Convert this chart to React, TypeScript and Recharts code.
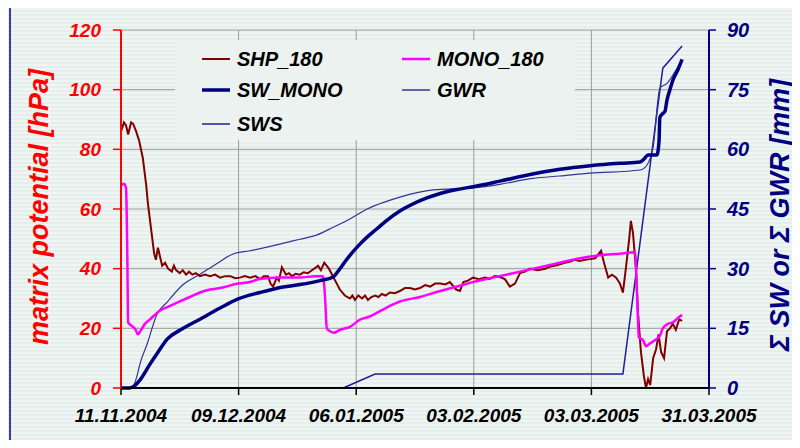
import React from 'react';
import { ComposedChart, Line, XAxis, YAxis, CartesianGrid, Legend, Label } from 'recharts';

// x values are days counted from 11.11.2004
const xTickDays = [0, 28, 56, 84, 112, 140];
const xTickLabels = ['11.11.2004', '09.12.2004', '06.01.2005', '03.02.2005', '03.03.2005', '31.03.2005'];
const leftTicks = [0, 20, 40, 60, 80, 100, 120];
const rightTicks = [0, 15, 30, 45, 60, 75, 90];

// matrix potential [hPa]
const shp180: [number, number][] = [
  [0, 86], [0.7, 89], [1.2, 88], [1.7, 85], [2.4, 89], [2.9, 88.5], [3.6, 86], [4.3, 83], [5.2, 77], [6, 68],
  [6.4, 62], [7.1, 54], [7.9, 45], [8.3, 43], [8.8, 47], [9.3, 44], [9.8, 41], [10.5, 42], [11.2, 40], [12.1, 39],
  [12.6, 41], [13.1, 39.5], [14, 38.5], [14.7, 39.5], [15.5, 38], [16.2, 39], [17, 38], [17.8, 38.5], [18.8, 37.5],
  [20, 38], [21.2, 37.5], [22.4, 38], [23.6, 37], [24.8, 37.5], [26, 37.5], [27.2, 36.8], [28.3, 37], [29.5, 37.5],
  [30.7, 37], [32, 37.5], [33.1, 36.5], [34, 37.5], [35, 37.5], [35.6, 35], [36.2, 34], [37.1, 37], [37.6, 36],
  [38.3, 40.5], [39.3, 38], [40, 38.5], [40.7, 37.5], [41.6, 38.3], [42.6, 38], [43.5, 38.8], [44.5, 38.5],
  [45.3, 39.3], [46, 40], [46.9, 41], [47.6, 39.5], [48.4, 42], [49.5, 40], [51, 36], [52.1, 33], [53.3, 31],
  [54.5, 30], [55.1, 31], [55.7, 29.5], [56.5, 31], [57.4, 30], [58.1, 31], [58.8, 29.5], [59.6, 30.5], [60.5, 31],
  [61.3, 30.5], [62.1, 31.5], [63, 31], [64, 32], [65.2, 31.8], [66.4, 32.5], [67.6, 33.5], [68.8, 33.5], [70, 33],
  [71.2, 33.5], [72.4, 34.5], [73.6, 34], [74.8, 35], [76, 35], [77.2, 34.7], [78.3, 35.5], [79.8, 33], [80.7, 32.5],
  [81.5, 35.5], [82.6, 36], [83.8, 37], [85.2, 36.5], [86.7, 37], [87.8, 36.6], [89, 37.5], [90.2, 37.2], [91.4, 36.5],
  [92.6, 34], [93.8, 35], [95, 38.5], [96.2, 39], [97.4, 40], [99.2, 39.5], [101, 40], [102.2, 40.7], [103.3, 41],
  [104.5, 41.5], [105.7, 42], [107, 42.4], [108, 43], [109.2, 42.6], [110.5, 43], [111.7, 43.2], [112.9, 43.5],
  [114.3, 46], [115, 42], [116, 37], [116.9, 38], [117.9, 37], [118.8, 35], [119.5, 32], [120.2, 40], [121, 50],
  [121.4, 56], [121.9, 52], [122.6, 40], [123.1, 25], [123.8, 12], [124.5, 4], [125, 0], [125.5, 3], [126, 1],
  [126.7, 10], [127.4, 13], [128, 18], [128.6, 12], [129.3, 10], [130, 19], [130.7, 20], [131.4, 21.5], [132.1, 19.5],
  [132.9, 23], [133.6, 22.5],
];

const mono180: [number, number][] = [
  [0, 68], [0.7, 68.5], [1.2, 67], [1.5, 45], [1.7, 22], [2.4, 21], [3.5, 19.5], [4, 18], [4.8, 19.5], [5.7, 21.5],
  [6.9, 23], [9.3, 26], [11.7, 27.5], [14, 29], [16.4, 30.5], [18.8, 32], [21.2, 33], [23.6, 33.5], [27.9, 35],
  [30.7, 35.5], [33, 36.5], [37.9, 37], [42.6, 37], [46.2, 37.5], [48.1, 37.5], [48.6, 30], [49, 20], [49.8, 19],
  [50.7, 18.5], [52.1, 19.5], [54.5, 20.5], [57, 23], [59.3, 24], [62, 26], [64, 27.5], [66.4, 29], [71.2, 30.5],
  [76, 32.5], [80, 34], [83.8, 35.5], [90.2, 37.5], [95, 39], [99.8, 40.5], [104.5, 42], [109.3, 43.5], [114, 44.5],
  [118.8, 45], [122.4, 45.5], [122.9, 30], [123.3, 17], [124.3, 16], [125, 14], [126, 15], [127.1, 16], [128.3, 17.5],
  [129, 20], [130.2, 21.5], [131.4, 22], [132.6, 23.5], [133.6, 24.5],
];

// cumulative sums [mm]
const swMono: [number, number][] = [
  [0, 0], [2, 0], [2.9, 0.3], [4.5, 2], [6.9, 6], [8.8, 9], [11, 12.3], [14, 14.5], [18.8, 17.3], [23.6, 20.1],
  [27.9, 22.4], [33.1, 24], [38.6, 25.4], [42.6, 26], [47.4, 27], [50.5, 27.9], [52, 29.8], [53.5, 32], [55.2, 34.2],
  [57, 36.3], [59, 38.3], [61, 40.1], [63, 41.9], [66.4, 44.5], [69, 46], [71.2, 47.1], [76, 48.9], [80, 49.9],
  [83.8, 50.6], [90.2, 52], [98, 53.8], [104.5, 55], [111.7, 55.9], [118.8, 56.5], [123.6, 56.8], [124.5, 57.5],
  [125.5, 58.6], [127.6, 58.6], [128.1, 62], [128.3, 68], [129, 69], [129.5, 69.5], [130, 72.4], [130.7, 75],
  [131.4, 77.4], [132.6, 80], [133.6, 82.6],
];

const gwr: [number, number][] = [
  [0, 0], [2, 0], [2.9, 0.5], [3.8, 3], [4.5, 6], [6.2, 11], [8.6, 18.6], [11, 21.6], [14.8, 26], [18.8, 28.6],
  [22.4, 31], [26.7, 33.7], [30.7, 34.5], [34.8, 35.4], [39, 36.5], [42.6, 37.4], [46.7, 38.5], [50.5, 40.4],
  [54.5, 42.5], [58.6, 45], [62.9, 46.8], [66.4, 48], [74.3, 49.8], [83.8, 50.3], [90.2, 51.2], [98, 52.7],
  [104.5, 53.3], [111.7, 54], [123.6, 54.8], [125.2, 56], [126.7, 60.6], [128.3, 75.4], [130, 76.6], [131.9, 79.5],
  [133.3, 82],
];

const sws: [number, number][] = [
  [52.9, 0], [60.5, 3.5], [119.5, 3.5], [129, 80.4], [133.6, 86],
];

const bg = '#ebf2ef';

const series = [
  { key: 'sws', name: 'SWS', data: sws, color: '#1f1f99', width: 1.5, axis: 'right', curve: 'linear' },
  { key: 'gwr', name: 'GWR', data: gwr, color: '#333399', width: 1.2, axis: 'right', curve: 'monotone' },
  { key: 'shp', name: 'SHP_180', data: shp180, color: '#800000', width: 2, axis: 'left', curve: 'linear' },
  { key: 'mono', name: 'MONO_180', data: mono180, color: '#ff00ff', width: 2.5, axis: 'left', curve: 'monotone' },
  { key: 'swMono', name: 'SW_MONO', data: swMono, color: '#000080', width: 3.5, axis: 'right', curve: 'monotone' },
];
const legendOrder = ['shp', 'mono', 'swMono', 'gwr', 'sws'];

const rows = new Map<number, Record<string, number>>();
series.forEach(s =>
  s.data.forEach(([d, v]) => {
    const r = rows.get(d) ?? { day: d };
    r[s.key] = v;
    rows.set(d, r);
  })
);
const chartData = [...rows.values()].sort((a, b) => a.day - b.day);

const renderLegend = () => (
  <svg width={400} height={100} style={{ display: 'block' }}>
    {legendOrder.map((k, i) => {
      const s = series.find(x => x.key === k)!;
      const cx = (i % 2) * 200;
      const cy = [19, 50, 84][Math.floor(i / 2)];
      return (
        <g key={k}>
          <line x1={cx + 27} x2={cx + 55} y1={cy} y2={cy} stroke={s.color} strokeWidth={Math.max(s.width, 1.5)} />
          <text x={cx + 62} y={cy + 7} fontSize={20} fontWeight="bold" fontStyle="italic" fill="#000">
            {s.name}
          </text>
        </g>
      );
    })}
  </svg>
);

// rotated axis title, centred at (cx, cy)
const axisTitle = (text: string, color: string, cx: number, cy: number) => () => (
  <text
    x={cx}
    y={cy}
    transform={`rotate(-90, ${cx}, ${cy})`}
    dy="0.36em"
    textAnchor="middle"
    fill={color}
    fontSize={27}
    fontWeight="bold"
    fontStyle="italic"
  >
    {text}
  </text>
);

const tickFont = { fontSize: 19, fontWeight: 'bold', fontStyle: 'italic' };

export default function App() {
  return (
    <div
      style={{
        position: 'relative',
        width: 800,
        height: 448,
        margin: -8,
        background: `repeating-linear-gradient(to bottom, #eff5f3 0px, #eff5f3 2px, #e6eeeb 2px, #e6eeeb 4px)`,
        fontFamily: '"Liberation Sans", Arial, sans-serif',
        overflow: 'hidden',
      }}
    >
      <div
        style={{
          position: 'absolute',
          left: 9,
          top: 5,
          width: 820,
          height: 460,
          borderLeft: '2px solid #3b3ba0',
          borderTop: '2px solid #3b3ba0',
        }}
      />
      <ComposedChart width={800} height={448} data={chartData} margin={{ top: 30, right: 0, bottom: 30, left: 0 }}>
        <CartesianGrid yAxisId="left" stroke="#9a9a9a" strokeWidth={1} />
        <XAxis
          dataKey="day"
          type="number"
          domain={[0, 140]}
          ticks={xTickDays}
          interval={0}
          height={30}
          tickFormatter={(v: number) => xTickLabels[xTickDays.indexOf(v)]}
          axisLine={{ stroke: '#000', strokeWidth: 2 }}
          tickLine={{ stroke: '#000', strokeWidth: 1.5 }}
          tickSize={7}
          tickMargin={14}
          tick={{ ...tickFont, fill: '#000' }}
        />
        <YAxis
          yAxisId="left"
          orientation="left"
          width={121}
          domain={[0, 120]}
          ticks={leftTicks}
          interval={0}
          axisLine={{ stroke: '#ff0000', strokeWidth: 2 }}
          tickLine={{ stroke: '#ff0000', strokeWidth: 1.5 }}
          tickSize={8}
          tickMargin={12}
          tick={{ ...tickFont, fill: '#ff0000' }}
        >
          <Label content={axisTitle('matrix potential [hPa]', '#ff0000', 38, 207)} />
        </YAxis>
        <YAxis
          yAxisId="right"
          orientation="right"
          width={91}
          domain={[0, 90]}
          ticks={rightTicks}
          interval={0}
          axisLine={{ stroke: '#000080', strokeWidth: 2 }}
          tickLine={{ stroke: '#000080', strokeWidth: 1.5 }}
          tickSize={7}
          tickMargin={11}
          tick={{ ...tickFont, fontSize: 20, fill: '#000080' }}
        >
          <Label content={axisTitle('\u03A3 SW  or \u03A3 GWR [mm]', '#000080', 779, 215)} />
        </YAxis>
        <Legend
          layout="horizontal"
          verticalAlign="middle"
          align="center"
          content={renderLegend}
          wrapperStyle={{ left: 175, top: 40, width: 400, height: 100, background: bg }}
        />
        {series.map(s => (
          <Line
            key={s.key}
            yAxisId={s.axis}
            dataKey={s.key}
            name={s.name}
            type={s.curve as 'linear' | 'monotone'}
            stroke={s.color}
            strokeWidth={s.width}
            dot={false}
            activeDot={false}
            connectNulls
            isAnimationActive={false}
          />
        ))}
      </ComposedChart>
    </div>
  );
}
